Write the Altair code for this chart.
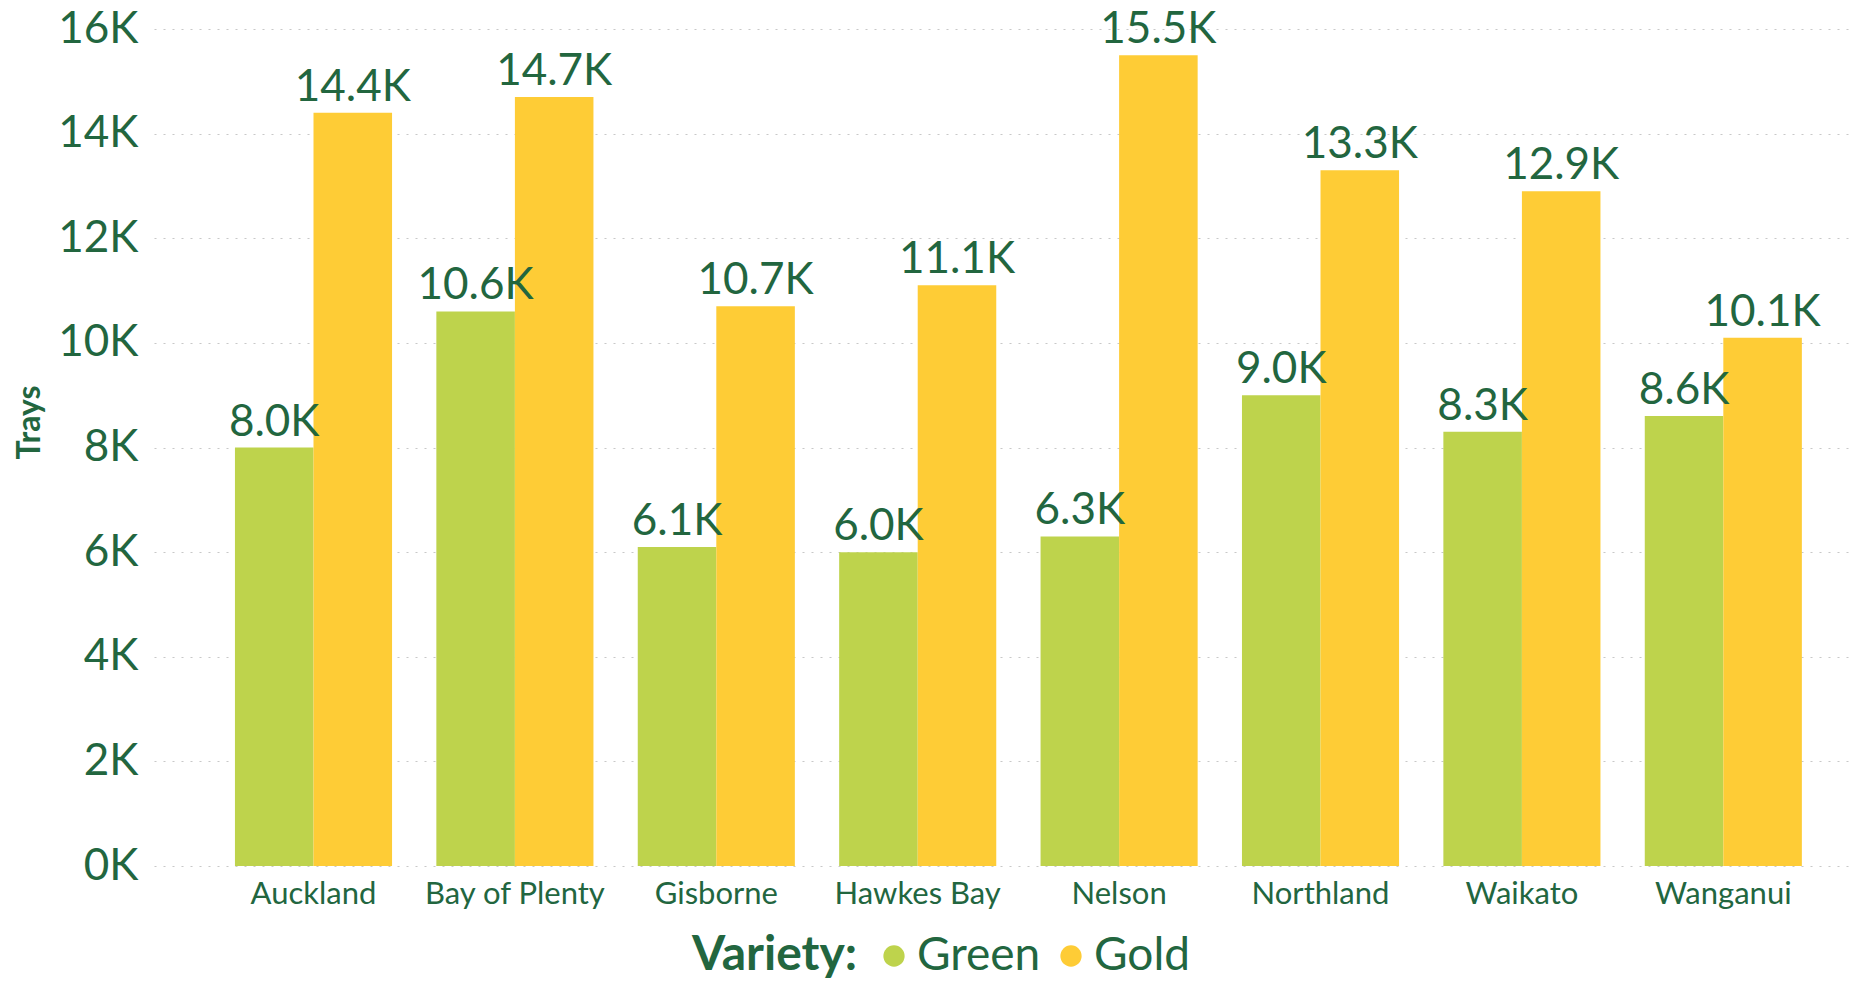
import altair as alt
import pandas as pd

regions = ["Auckland", "Bay of Plenty", "Gisborne", "Hawkes Bay", "Nelson",
           "Northland", "Waikato", "Wanganui"]
varieties = ["Green", "Gold"]
green_k = [8.0, 10.6, 6.1, 6.0, 6.3, 9.0, 8.3, 8.6]
gold_k = [14.4, 14.7, 10.7, 11.1, 15.5, 13.3, 12.9, 10.1]
y_ticks = [0, 2000, 4000, 6000, 8000, 10000, 12000, 14000, 16000]
colors = ["#BED34C", "#FECC36"]

rows = []
for r, g, o in zip(regions, green_k, gold_k):
    rows.append({"Region": r, "Variety": "Green", "Trays": g * 1000})
    rows.append({"Region": r, "Variety": "Gold", "Trays": o * 1000})
df = pd.DataFrame(rows)

TXT = "#22663F"
FONT = "Segoe UI, Lato, sans-serif"

base = alt.Chart(df).transform_calculate(
    Label="format(datum.Trays / 1000, '.1f') + 'K'"
).encode(
    x=alt.X(
        "Region:N", sort=regions,
        scale=alt.Scale(paddingInner=0.22, paddingOuter=0.318, align=0.632),
        axis=alt.Axis(title=None, labelAngle=0, ticks=False, domain=False,
                      grid=False, labelFontSize=31, labelColor=TXT,
                      labelPadding=13, labelFont=FONT, labelLimit=400),
    ),
    xOffset=alt.XOffset("Variety:N", sort=varieties),
    y=alt.Y(
        "Trays:Q",
        scale=alt.Scale(domain=[0, 16000], nice=False),
        axis=alt.Axis(values=y_ticks, labelExpr="datum.value / 1000 + 'K'",
                      ticks=False, domain=False, labelFontSize=44,
                      labelColor=TXT, labelPadding=16, labelFont=FONT,
                      grid=True, gridDash=[2, 7], gridColor="#C8C8C8",
                      gridWidth=1.2,
                      title="Trays", titleFontSize=32, titleFontWeight="bold",
                      titleColor=TXT, titleFont=FONT, titleAngle=270,
                      titleX=-125, titleY=393, titleAlign="center",
                      titleBaseline="middle"),
    ),
)

bars = base.mark_bar().encode(
    color=alt.Color(
        "Variety:N",
        scale=alt.Scale(domain=varieties, range=colors),
        legend=alt.Legend(
            title="Variety:", orient="none", legendX=538, legendY=904,
            direction="horizontal", titleOrient="left",
            titleFontSize=48, titleFontWeight="bold", titleColor=TXT,
            titleFont=FONT, titleLimit=400, titlePadding=13,
            titleBaseline="middle",
            labelFontSize=46, labelColor=TXT, labelFont=FONT, labelLimit=300,
            labelOffset=0, columnPadding=7,
            symbolType="circle", symbolSize=452, symbolStrokeWidth=0,
            symbolOpacity=1,
        ),
    )
)

labels = base.mark_text(
    baseline="alphabetic", dy=-12, fontSize=44, color=TXT, font=FONT
).encode(text="Label:N")

chart = alt.layer(bars, labels).properties(
    width=1695, height=837,
    autosize=alt.AutoSizeParams(type="none"),
    padding={"left": 146, "top": 21, "right": 0, "bottom": 112},
).configure_view(stroke=None)

chart.save("out.html", embed_options={"renderer": "svg", "actions": False})
